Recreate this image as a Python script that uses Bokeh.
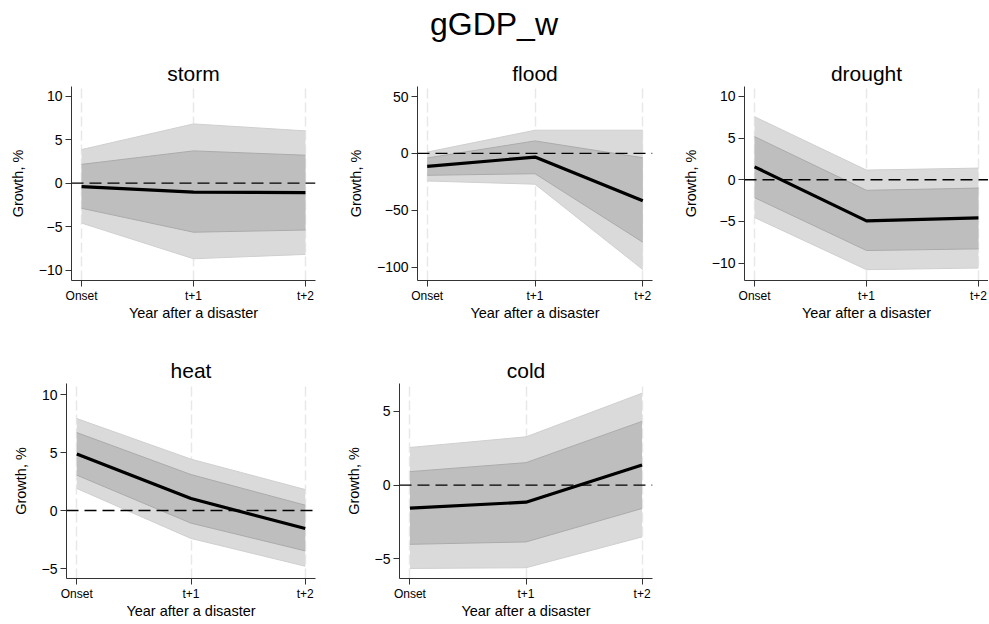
from bokeh.plotting import figure
from bokeh.models import FixedTicker, Div, Range1d, Span
from bokeh.layouts import column, row
from bokeh.embed import file_html
from bokeh.resources import INLINE

FONT = "Liberation Sans"

steps = [0, 1, 2]
step_labels = {0: "Onset", 1: "t+1", 2: "t+2"}

# storm
storm_mean = [-0.4, -1.05, -1.1]
storm_lo68 = [-2.9, -5.65, -5.4]
storm_hi68 = [2.15, 3.7, 3.2]
storm_lo90 = [-4.6, -8.7, -8.2]
storm_hi90 = [3.85, 6.8, 6.0]

# flood
flood_mean = [-11.4, -3.2, -41.5]
flood_lo68 = [-19.2, -17.8, -78.0]
flood_hi68 = [-4.0, 11.0, -3.8]
flood_lo90 = [-24.2, -27.0, -102.0]
flood_hi90 = [1.2, 20.4, 20.4]

# drought
drought_mean = [1.55, -4.94, -4.58]
drought_lo68 = [-2.15, -8.5, -8.3]
drought_hi68 = [5.18, -1.27, -1.0]
drought_lo90 = [-4.54, -10.8, -10.6]
drought_hi90 = [7.57, 1.16, 1.4]

# heat
heat_mean = [4.88, 1.03, -1.55]
heat_lo68 = [3.05, -1.09, -3.48]
heat_hi68 = [6.72, 3.1, 0.46]
heat_lo90 = [1.9, -2.41, -4.8]
heat_hi90 = [7.93, 4.43, 1.81]

# cold
cold_mean = [-1.57, -1.16, 1.36]
cold_lo68 = [-4.02, -3.86, -1.59]
cold_hi68 = [0.91, 1.52, 4.32]
cold_lo90 = [-5.66, -5.61, -3.52]
cold_hi90 = [2.55, 3.27, 6.23]

LIGHT = "#dadada"
DARK = "#bebebe"


def panel(name, mean, lo68, hi68, lo90, hi90, yticks, yrange,
          width, height, bl, br, bt, bb):
    p = figure(width=width, height=height, output_backend="svg",
               toolbar_location=None, x_range=Range1d(-0.09, 2.09),
               y_range=Range1d(*yrange), title=name, margin=0)
    p.min_border = 0
    p.min_border_left = bl
    p.min_border_right = br
    p.min_border_top = bt
    p.min_border_bottom = bb
    p.outline_line_color = None
    p.background_fill_color = "white"
    p.border_fill_color = "white"

    p.title.align = "center"
    p.title.text_font = FONT
    p.title.text_font_size = "21px"
    p.title.text_font_style = "normal"
    p.title.text_color = "black"
    p.title.standoff = 4

    p.varea(x=steps, y1=lo90, y2=hi90, fill_color=LIGHT, fill_alpha=1)
    p.varea(x=steps, y1=lo68, y2=hi68, fill_color=DARK, fill_alpha=1)
    for arr in (lo90, hi90):
        p.line(steps, arr, line_color="#cfcfcf", line_width=1)
    for arr in (lo68, hi68):
        p.line(steps, arr, line_color="#ababab", line_width=1)

    p.add_layout(Span(location=0, dimension="width", line_color="black",
                      line_width=1.3, line_dash="12 6"))
    p.line(steps, mean, line_color="black", line_width=3.2)

    p.ygrid.grid_line_color = None
    p.xgrid.grid_line_color = "#e8e8e8"
    p.xgrid.grid_line_width = 1.5
    p.xgrid.grid_line_dash = "10 4"
    p.xgrid.level = "underlay"

    p.xaxis.ticker = FixedTicker(ticks=steps)
    p.xaxis.major_label_overrides = step_labels
    p.yaxis.ticker = FixedTicker(ticks=yticks)
    for ax in (p.xaxis[0], p.yaxis[0]):
        ax.minor_tick_line_color = None
        ax.major_tick_in = 0
        ax.major_tick_out = 6
        ax.axis_line_color = "#333333"
        ax.major_tick_line_color = "#333333"
        ax.axis_label_text_font = FONT
        ax.axis_label_text_font_style = "normal"
        ax.axis_label_text_font_size = "14.5px"
        ax.axis_label_text_color = "black"
        ax.major_label_text_font = FONT
        ax.major_label_text_color = "black"
    p.yaxis.major_label_text_font_size = "14px"
    p.xaxis.major_label_text_font_size = "12px"
    p.yaxis.major_label_standoff = 3
    p.xaxis.major_label_standoff = 2
    p.yaxis.axis_label = "Growth, %"
    p.xaxis.axis_label = "Year after a disaster"
    p.yaxis.axis_label_standoff = 10
    p.xaxis.axis_label_standoff = -1
    return p


# frame rows: top row 86..280, bottom row 383..578 (page coords)
H1 = 278   # 38 + 194 + 46
H2 = 297   # 57 + 195 + 45
p1 = panel("storm", storm_mean, storm_lo68, storm_hi68, storm_lo90, storm_hi90,
           [-10, -5, 0, 5, 10], (-11.2, 11.1), 330, H1, 71, 15, 38, 46)
p2 = panel("flood", flood_mean, flood_lo68, flood_hi68, flood_lo90, flood_hi90,
           [-100, -50, 0, 50], (-111.6, 58.8), 330, H1, 87, 8, 38, 46)
p3 = panel("drought", drought_mean, drought_lo68, drought_hi68, drought_lo90, drought_hi90,
           [-10, -5, 0, 5, 10], (-12.1, 11.2), 328, H1, 84, 0, 38, 46)
p4 = panel("heat", heat_mean, heat_lo68, heat_hi68, heat_lo90, heat_hi90,
           [-5, 0, 5, 10], (-5.86, 10.95), 330, H2, 66, 15, 57, 45)
p5 = panel("cold", cold_mean, cold_lo68, cold_hi68, cold_lo90, cold_hi90,
           [-5, 0, 5], (-6.34, 6.89), 330, H2, 69, 8, 57, 45)

title = Div(text="gGDP_w", width=988, height=48, margin=0,
            styles={"font-family": FONT, "font-size": "32px", "color": "black",
                    "text-align": "center", "width": "988px",
                    "line-height": "48px", "overflow": "visible"})

layout = column(title, row(p1, p2, p3, spacing=0, margin=0),
                row(p4, p5, spacing=0, margin=0), spacing=0, margin=0)

open("out.html", "w").write(file_html(layout, INLINE))
